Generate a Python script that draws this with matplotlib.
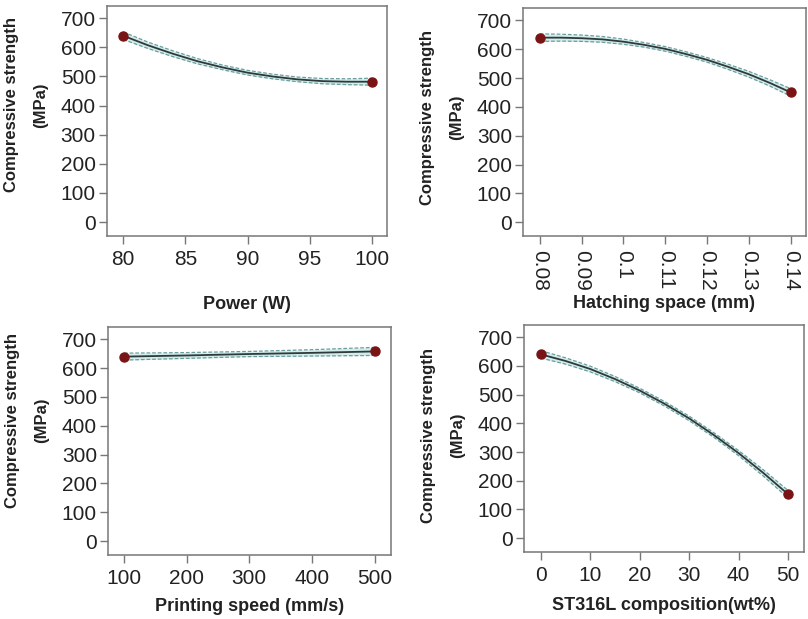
import matplotlib.pyplot as plt

plt.rcParams['font.family'] = ['Liberation Sans', 'DejaVu Sans']

# panel 1: power
power = [80, 82, 84, 86, 88, 90, 92, 94, 96, 98, 100]
power_fit = [640, 607, 578, 552, 531, 513, 500, 490, 484, 482, 482]
power_ci = [13, 11, 10, 9, 8, 8, 8, 8, 9, 10, 12]

# panel 2: hatching space
hatch = [0.08, 0.085, 0.09, 0.095, 0.10, 0.105, 0.11, 0.115, 0.12, 0.125, 0.13, 0.135, 0.14]
hatch_fit = [640, 640, 638, 634, 626, 615, 601, 583, 563, 539, 513, 483, 450]
hatch_ci = [13, 12, 11, 10, 9, 8, 8, 8, 8, 9, 10, 11, 13]

# panel 3: printing speed
speed = [100, 200, 300, 400, 500]
speed_fit = [640, 644, 649, 653, 658]
speed_ci = [12, 10, 9, 11, 14]

# panel 4: ST316L composition
comp = [0, 5, 10, 15, 20, 25, 30, 35, 40, 45, 50]
comp_fit = [640, 617, 589, 554, 514, 468, 417, 359, 296, 227, 153]
comp_ci = [13, 11, 10, 9, 8, 8, 8, 8, 9, 11, 13]

ylabel = 'Compressive strength\n(MPa)'
yticks = [0, 100, 200, 300, 400, 500, 600, 700]

panels = [
    (power, power_fit, power_ci, 'Power (W)', [80, 85, 90, 95, 100], None, (78.7, 101.2),
     [0.1324, 0.6187, 0.3465, 0.3716], -0.26, 0.57, 0),
    (hatch, hatch_fit, hatch_ci, 'Hatching space (mm)', [0.08, 0.09, 0.1, 0.11, 0.12, 0.13, 0.14],
     ['0.08', '0.09', '0.1', '0.11', '0.12', '0.13', '0.14'], (0.076, 0.1436),
     [0.6473, 0.6187, 0.350, 0.368], -0.26, 0.52, -90),
    (speed, speed_fit, speed_ci, 'Printing speed (mm/s)', [100, 200, 300, 400, 500], None, (74.5, 526),
     [0.1337, 0.1034, 0.350, 0.368], -0.19, 0.59, 0),
    (comp, comp_fit, comp_ci, 'ST316L composition(wt%)', [0, 10, 20, 30, 40, 50], None, (-3.4, 53.2),
     [0.6485, 0.1082, 0.3465, 0.3667], -0.198, 0.515, 0),
]

fig = plt.figure(figsize=(8.08, 6.19), dpi=100)

for x, fit, ci, xlab, xt, xtl, xlim, pos, xly, yly, rot in panels:
    ax = fig.add_axes(pos)
    lo = [f - c for f, c in zip(fit, ci)]
    hi = [f + c for f, c in zip(fit, ci)]
    ax.fill_between(x, lo, hi, color='#d3ecec', lw=0)
    ax.plot(x, lo, ls='--', color='#6a9e9e', lw=0.9, dashes=(3, 1.5))
    ax.plot(x, hi, ls='--', color='#6a9e9e', lw=0.9, dashes=(3, 1.5))
    ax.plot(x, fit, color='#2e3a3a', lw=1.3)
    ax.plot([x[0], x[-1]], [fit[0], fit[-1]], 'o', color='#7a1414', ms=6.5, ls='none')

    ax.set_xlim(*xlim)
    ax.set_ylim(-48, 742)
    ax.set_yticks(yticks)
    ax.set_xticks(xt)
    if xtl is not None:
        ax.set_xticklabels(xtl)
    ax.tick_params(axis='both', labelsize=15, length=6, width=1, color='#777777',
                   labelcolor='#222222', pad=2)
    ax.tick_params(axis='x', labelrotation=rot, pad=4)
    if rot:
        for t in ax.get_xticklabels():
            t.set_va('top')
            t.set_ha('center')
    for s in ax.spines.values():
        s.set_color('#777777')
        s.set_linewidth(1.1)

    ax.set_ylabel(ylabel, fontsize=12, fontweight='bold', linespacing=2.15, color='#222222')
    ax.yaxis.set_label_coords(-0.21, yly)
    ax.set_xlabel(xlab, fontsize=13, fontweight='bold', color='#222222')
    ax.xaxis.set_label_coords(0.5, xly)

fig.savefig('out.png', dpi=100)
